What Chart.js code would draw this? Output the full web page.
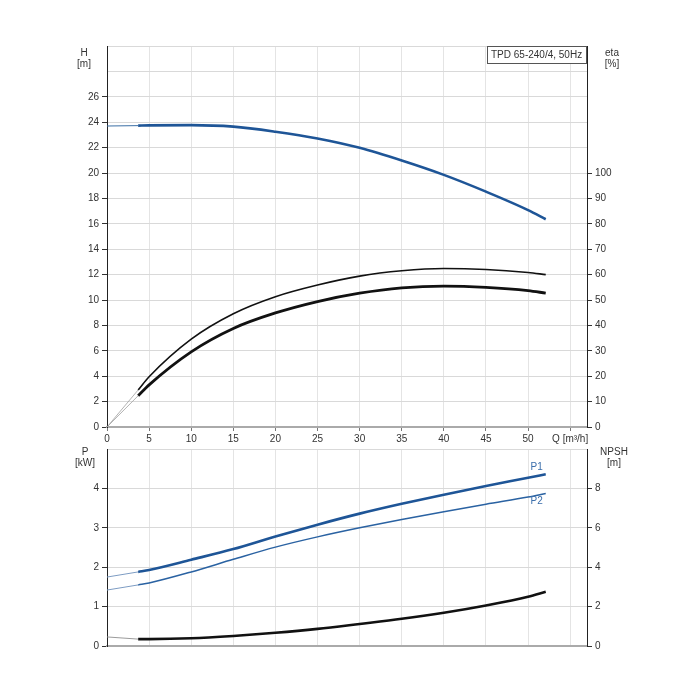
<!DOCTYPE html>
<html><head><meta charset="utf-8">
<script src="https://cdn.jsdelivr.net/npm/chart.js@4.4.1/dist/chart.umd.min.js"></script>
<style>
html,body{margin:0;padding:0;background:#fff;width:700px;height:700px;overflow:hidden}
#wrap{position:relative;width:700px;height:700px}
canvas{position:absolute;left:0}
#top{top:0}
#bot{top:440px}
</style></head><body>
<div id="wrap"><canvas id="top" width="700" height="445"></canvas><canvas id="bot" width="700" height="215"></canvas></div>
<script>
// ---- data ----
const flowQ    = [3.7, 5, 10, 15, 20, 25, 30, 35, 40, 45, 50, 52.1];
const headH    = [23.73, 23.75, 23.77, 23.65, 23.25, 22.72, 21.98, 20.98, 19.85, 18.53, 17.08, 16.36];
const etaPump  = [14.6, 19.8, 34.6, 44.6, 51.3, 55.9, 59.4, 61.5, 62.4, 62.0, 60.8, 60.0];
const etaTotal = [12.3, 16.6, 29.6, 38.8, 44.9, 49.4, 52.7, 54.8, 55.5, 55.0, 53.7, 52.7];
const powerP1  = [1.88, 1.93, 2.19, 2.46, 2.78, 3.08, 3.36, 3.61, 3.84, 4.06, 4.27, 4.36];
const powerP2  = [1.55, 1.60, 1.88, 2.20, 2.51, 2.77, 3.00, 3.21, 3.41, 3.60, 3.78, 3.87];
const npshR    = [0.35, 0.35, 0.39, 0.51, 0.67, 0.87, 1.12, 1.38, 1.69, 2.06, 2.50, 2.75];
// values at Q = 0 (thin extension lines)
const zeroQ = 0;
const headAtZero = 23.7, etaAtZero = 0, p1AtZero = 1.75, p2AtZero = 1.42, npshAtZero = 0.46;
// axis tick labels
const hTickMax = 26, etaTickMax = 100, pTickMax = 4, npshTickMax = 8;
const qAxisLabel = 'Q [m³/h]', qAxisLabelAt = 55;
const titleText = 'TPD 65-240/4, 50Hz';
const seriesLabels = ['P1', 'P2'];

const pts = arr => flowQ.map((q, i) => ({x: q, y: arr[i]}));
const ext = (y0, arr) => [{x: zeroQ, y: y0}, {x: flowQ[0], y: arr[0]}];

const FONT = "'Liberation Sans', Arial, sans-serif";
Chart.defaults.font.family = FONT;
Chart.defaults.font.size = 10;
Chart.defaults.color = '#333';

const BLUE = '#1e5597';
const TRANSP = 'rgba(0,0,0,0)';

function lineDs(data, color, width, axis) {
  return {data, borderColor: color, borderWidth: width, pointRadius: 0, fill: false,
          cubicInterpolationMode: 'monotone', yAxisID: axis, borderCapStyle: 'butt'};
}

function textPlugin(items, boxed) {
  return {
    id: 'txt' + Math.random().toString(36).slice(2),
    afterDraw(chart) {
      const c = chart.ctx;
      c.save();
      if (boxed) {
        c.fillStyle = '#fff';
        c.fillRect(boxed.x, boxed.y, boxed.w, boxed.h);
        c.strokeStyle = '#555'; c.lineWidth = 1;
        c.strokeRect(boxed.x + 0.5, boxed.y + 0.5, boxed.w - 1, boxed.h - 1);
        c.fillStyle = '#333'; c.font = "10px " + FONT;
        c.textAlign = 'left'; c.textBaseline = 'middle';
        c.fillText(boxed.text, boxed.x + 4, boxed.y + boxed.h / 2 + 0.5);
      }
      c.font = "10px " + FONT;
      c.textAlign = 'center'; c.textBaseline = 'middle';
      items.forEach(it => {
        const p = typeof it.pos === 'function' ? it.pos(chart) : it.pos;
        c.fillStyle = it.color || '#333';
        c.fillText(it.text, p[0], p[1]);
      });
      c.restore();
    }
  };
}

const tickCol = lim => ctx => (ctx.tick && ctx.tick.value <= lim) ? '#333' : TRANSP;
const tickLbl = lim => v => v <= lim ? String(v) : '';

// ---------- top chart ----------
new Chart(document.getElementById('top'), {
  type: 'line',
  data: { datasets: [
    lineDs(ext(headAtZero, headH), '#3a6ea5', 1, 'y'),
    lineDs(ext(etaAtZero, etaPump), '#a0a0a0', 0.8, 'yEta'),
    lineDs(ext(etaAtZero, etaTotal), '#a0a0a0', 0.8, 'yEta'),
    lineDs(pts(headH), BLUE, 2.6, 'y'),
    lineDs(pts(etaPump), '#111', 1.6, 'yEta'),
    lineDs(pts(etaTotal), '#111', 2.8, 'yEta')
  ]},
  options: {
    responsive: false, animation: false, events: [],
    layout: {padding: {top: 46, left: 0, right: 0, bottom: 0}, autoPadding: false},
    plugins: {legend: {display: false}, tooltip: {enabled: false}},
    scales: {
      x: {type: 'linear', min: 0, max: 57,
          afterFit: s => { s.height = 18; },
          border: {color: '#aaa', width: 2},
          grid: {color: '#e4e4e4', tickLength: 4, tickColor: '#777'},
          ticks: {stepSize: 5, includeBounds: false, padding: 2, maxRotation: 0, autoSkip: false,
                  callback: v => v === qAxisLabelAt ? qAxisLabel : String(v)}},
      y: {position: 'left', min: 0, max: 30,
          afterFit: s => { s.width = 107; },
          border: {color: '#222'},
          grid: {color: '#d9d9d9', tickLength: 5, tickColor: tickCol(hTickMax)},
          ticks: {stepSize: 2, padding: 3, autoSkip: false, callback: tickLbl(hTickMax)}},
      yEta: {position: 'right', min: 0, max: 150,
          afterFit: s => { s.width = 113; },
          border: {color: '#222'},
          grid: {drawOnChartArea: false, tickLength: 5, tickColor: tickCol(etaTickMax)},
          ticks: {stepSize: 10, padding: 3, autoSkip: false, callback: tickLbl(etaTickMax)}}
    }
  },
  plugins: [textPlugin([
    {text: 'H', pos: [84, 53]}, {text: '[m]', pos: [84, 64]},
    {text: 'eta', pos: [612, 53]}, {text: '[%]', pos: [612, 64]}
  ], {x: 487, y: 46, w: 100, h: 18, text: titleText})]
});

// ---------- bottom chart ----------
const OFF = 440;
new Chart(document.getElementById('bot'), {
  type: 'line',
  data: { datasets: [
    lineDs(ext(p1AtZero, powerP1), '#7d9cc3', 1, 'y'),
    lineDs(ext(p2AtZero, powerP2), '#7d9cc3', 1, 'y'),
    lineDs(ext(npshAtZero, npshR), '#909090', 0.9, 'yN'),
    lineDs(pts(powerP1), BLUE, 2.6, 'y'),
    lineDs(pts(powerP2), '#2a62a2', 1.5, 'y'),
    lineDs(pts(npshR), '#111', 2.6, 'yN')
  ]},
  options: {
    responsive: false, animation: false, events: [],
    layout: {padding: {top: 7, left: 0, right: 0, bottom: 0}, autoPadding: false},
    plugins: {legend: {display: false}, tooltip: {enabled: false}},
    scales: {
      x: {type: 'linear', min: 0, max: 57,
          afterFit: s => { s.height = 6; },
          border: {color: '#aaa', width: 2},
          grid: {color: '#e4e4e4', drawTicks: false},
          ticks: {stepSize: 5, includeBounds: false, display: false}},
      y: {position: 'left', min: 0, max: 5,
          afterFit: s => { s.width = 107; },
          border: {color: '#222'},
          grid: {color: '#d9d9d9', tickLength: 5, tickColor: tickCol(pTickMax)},
          ticks: {stepSize: 1, padding: 3, autoSkip: false, callback: tickLbl(pTickMax)}},
      yN: {position: 'right', min: 0, max: 10,
          afterFit: s => { s.width = 113; },
          border: {color: '#222'},
          grid: {drawOnChartArea: false, tickLength: 5, tickColor: tickCol(npshTickMax)},
          ticks: {stepSize: 2, padding: 3, autoSkip: false, callback: tickLbl(npshTickMax)}}
    }
  },
  plugins: [textPlugin([
    {text: 'P', pos: [85, 452 - OFF]}, {text: '[kW]', pos: [85, 463 - OFF]},
    {text: 'NPSH', pos: [614, 452 - OFF]}, {text: '[m]', pos: [614, 463 - OFF]},
    {text: seriesLabels[0], color: '#3b6eab', pos: ch => {
        const n = flowQ.length - 1;
        return [ch.scales.x.getPixelForValue(flowQ[n]) - 9, ch.scales.y.getPixelForValue(powerP1[n]) - 7];
      }},
    {text: seriesLabels[1], color: '#3b6eab', pos: ch => {
        const n = flowQ.length - 1;
        return [ch.scales.x.getPixelForValue(flowQ[n]) - 9, ch.scales.y.getPixelForValue(powerP2[n]) + 8];
      }}
  ])]
});
</script>
</body></html>
